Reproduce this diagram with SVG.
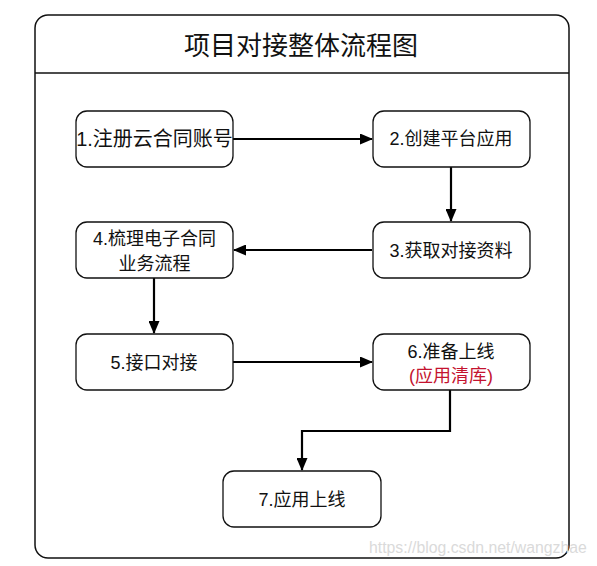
<svg xmlns="http://www.w3.org/2000/svg" width="597" height="566" viewBox="0 0 597 566">
<style>
text{font-family:"Liberation Sans","Noto Sans CJK SC",sans-serif;fill:#111;text-anchor:middle}
.box{fill:#fff;stroke:#111;stroke-width:1.3}
.t{font-size:18px}
.edge{fill:none;stroke:#000;stroke-width:2.2}
.red{fill:#c4132f}
</style>
<defs>
<marker id="ah" markerUnits="userSpaceOnUse" markerWidth="13" markerHeight="11" refX="12" refY="5.5" orient="auto">
<path d="M0,0 L13,5.5 L0,11 z" fill="#000"/>
</marker>
</defs>
<rect x="0" y="0" width="597" height="566" fill="#fff"/>
<g id="container">
<rect x="35" y="15" width="534" height="543" rx="13" fill="#fff" stroke="#111" stroke-width="1.5"/>
<line x1="35" y1="73" x2="569" y2="73" stroke="#111" stroke-width="1.5"/>
<text x="301" y="55" style="font-size:26px">项目对接整体流程图</text>
</g>
<g id="connectors">
<path class="edge" d="M233,139 H372" marker-end="url(#ah)"/>
<path class="edge" d="M451,167 V221" marker-end="url(#ah)"/>
<path class="edge" d="M372,250 H234" marker-end="url(#ah)"/>
<path class="edge" d="M154,278 V333" marker-end="url(#ah)"/>
<path class="edge" d="M233,362 H372" marker-end="url(#ah)"/>
<path class="edge" d="M450,390 V431 H302 V470" marker-end="url(#ah)"/>
</g>
<g id="node1">
<rect class="box" x="76" y="111" width="157" height="56" rx="11"/>
<text x="154.5" y="146" style="font-size:20px">1.注册云合同账号</text>
</g>
<g id="node2">
<rect class="box" x="373" y="111" width="157" height="56" rx="11"/>
<text class="t" x="451" y="145">2.创建平台应用</text>
</g>
<g id="node3">
<rect class="box" x="373" y="222" width="157" height="56" rx="11"/>
<text class="t" x="451" y="256.5">3.获取对接资料</text>
</g>
<g id="node4">
<rect class="box" x="76" y="222" width="157" height="56" rx="11"/>
<text class="t" x="154.5" y="245">4.梳理电子合同</text>
<text class="t" x="154.5" y="270">业务流程</text>
</g>
<g id="node5">
<rect class="box" x="76" y="334" width="157" height="56" rx="11"/>
<text class="t" x="154" y="368.5">5.接口对接</text>
</g>
<g id="node6">
<rect class="box" x="373" y="334" width="157" height="56" rx="11"/>
<text class="t" x="451" y="357.5">6.准备上线</text>
<text class="t red" x="451" y="381.5">(应用清库)</text>
</g>
<g id="node7">
<rect class="box" x="223" y="471" width="158" height="56" rx="11"/>
<text class="t" x="302" y="505.5">7.应用上线</text>
</g>
<text x="369" y="553" style="font-size:15.8px;fill:#dadada;text-anchor:start">https://blog.csdn.net/wangzhae</text>
</svg>
